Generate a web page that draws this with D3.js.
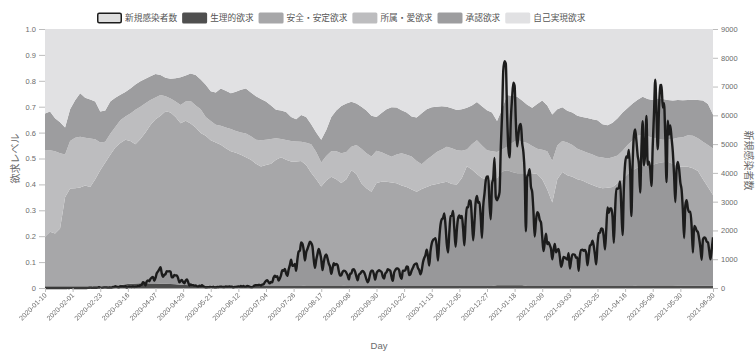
<!DOCTYPE html>
<html>
<head>
<meta charset="utf-8">
<script src="https://cdn.jsdelivr.net/npm/d3@7"></script>
<style>
  body { margin: 0; background: #fff; }
  text { font-family: "Liberation Sans", "Noto Sans CJK JP", sans-serif; }
  .x-axis { filter: grayscale(1); }
</style>
</head>
<body>
<svg id="chart" width="755" height="352"></svg>
<script>
// ---- categories (one per day, a few June 2021 dates absent from the source) ----
const startDate = "2020-01-10";
const endDate = "2021-06-30";
const skippedDates = ["2021-06-05", "2021-06-06", "2021-06-12", "2021-06-13", "2021-06-19"];
const labelEvery = 22;      // a date label every 22 days, plus the last date
const layerStep = 4;        // need-level shares are sampled every 4th day

// ---- need-level shares (stacked, bottom to top; each sample sums to 1) ----
const physiological = [
  .006,.006,.006,.006,.006,.006,.006,.006,.006,.006,.006,.006,.006,.006,
  .009,.012,.014,.016,.017,.018,.018,.017,.017,.016,.016,.015,.014,.013,.012,.011,.011,.010,.010,.009,
  .008,.008,.008,.008,.008,.008,.008,.008,.008,.008,.008,.008,.008,.008,.008,.008,.008,.008,
  .010,.010,.010,.010,.010,.010,.010,.010,
  .008,.008,.008,.008,.008,.008,.008,.008,.008,.008,.008,.008,.008,.008,.008,.008,.008,.008,.008,.008,.008,.008,.008,.008,.008,.008,.008,.008,.008,.008,
  .011,.011,.011,.011,.011,.011,
  .008,.008,.008,.008,.008,.008,.008,.008,.008,.008,.008,.008,.008,.008,.008,.008,.008,.008,.008,.008,.008,.008,
  .010,.010,.010,.010,.010,.010,.010,.010,
  .009,.009,.009,.009,.009,.009,.009,.009
];
const safety = [
  .192,.211,.204,.224,.344,.378,.379,.382,.390,.384,.414,.449,.479,.508,
  .533,.548,.558,.552,.538,.557,.582,.612,.635,.649,.666,.663,.646,.623,.634,.624,.609,.588,.578,.561,
  .554,.545,.532,.520,.514,.506,.497,.487,.472,.461,.467,.472,.487,.497,.487,.480,.480,.482,
  .465,.435,.410,.382,.405,.420,.410,.395,
  .412,.447,.432,.396,.377,.364,.397,.402,.402,.399,.396,.388,.382,.372,.364,.374,.382,.390,.394,.398,.402,.394,.392,.417,.462,.450,.432,.417,.412,.412,
  .414,.439,.444,.437,.432,.432,
  .435,.435,.432,.412,.372,.322,.412,.440,.427,.422,.412,.407,.397,.390,.382,.377,.379,.382,.397,.412,.432,.447,
  .455,.460,.464,.466,.472,.476,.477,.470,
  .461,.459,.459,.453,.443,.411,.381,.350
];
const belonging = [
  .335,.315,.318,.290,.165,.184,.195,.196,.184,.187,.154,.107,.080,.082,
  .080,.088,.090,.106,.133,.125,.113,.097,.084,.080,.058,.054,.060,.071,.074,.087,.085,.092,.072,.075,
  .068,.073,.080,.086,.084,.086,.092,.091,.092,.101,.097,.095,.083,.070,.076,.080,.078,.075,
  .086,.110,.105,.093,.095,.098,.108,.115,
  .105,.090,.112,.134,.135,.136,.125,.114,.105,.100,.111,.124,.124,.128,.118,.096,.105,.112,.123,.129,.135,.138,.132,.105,.065,.097,.130,.125,.112,.108,
  .100,.085,.090,.112,.128,.122,
  .117,.105,.098,.114,.148,.160,.130,.120,.127,.122,.118,.115,.117,.117,.117,.119,.113,.115,.107,.110,.112,.115,
  .123,.120,.112,.104,.094,.086,.085,.095,
  .110,.114,.122,.126,.126,.145,.162,.180
];
const esteem = [
  .141,.149,.127,.120,.105,.122,.145,.168,.155,.151,.146,.119,.120,.124,
  .113,.098,.095,.096,.098,.098,.095,.092,.090,.077,.072,.076,.090,.107,.100,.106,.117,.115,.125,.115,
  .125,.144,.142,.138,.152,.165,.173,.169,.168,.160,.148,.130,.110,.110,.109,.092,.086,.103,
  .099,.077,.075,.087,.100,.132,.157,.183,
  .187,.174,.160,.162,.165,.157,.130,.152,.175,.191,.182,.166,.164,.154,.168,.197,.195,.188,.175,.167,.155,.154,.155,.160,.161,.150,.148,.152,.154,.150,
  .120,.155,.200,.182,.167,.159,
  .148,.148,.172,.190,.177,.180,.140,.130,.122,.126,.127,.130,.134,.137,.141,.128,.128,.133,.143,.148,.143,.142,
  .139,.148,.144,.146,.156,.158,.154,.149,
  .146,.143,.136,.139,.148,.159,.158,.131
];
const selfActualization = [
  .326,.319,.345,.360,.380,.310,.275,.248,.265,.272,.280,.319,.315,.280,
  .265,.254,.243,.230,.214,.202,.192,.182,.174,.178,.188,.192,.190,.186,.180,.172,.178,.195,.215,.240,
  .245,.230,.238,.248,.242,.235,.230,.245,.260,.270,.280,.295,.312,.315,.320,.340,.348,.332,
  .340,.368,.400,.428,.390,.340,.315,.297,
  .288,.281,.288,.300,.315,.335,.340,.324,.310,.302,.303,.314,.322,.338,.342,.325,.310,.302,.300,.298,.300,.306,.313,.310,.304,.295,.282,.298,.314,.322,
  .355,.310,.255,.258,.262,.276,
  .292,.304,.290,.276,.295,.330,.310,.302,.316,.322,.335,.340,.344,.348,.352,.368,.372,.362,.345,.322,.305,.288,
  .273,.262,.270,.274,.268,.270,.274,.276,
  .274,.275,.274,.273,.274,.276,.290,.330
];

// ---- daily new infections (right axis) ----
const newCases = [
  0,0,0,
  0,0,0,1,0,0,0,  0,0,0,0,1,1,1,  0,3,1,3,3,2,0,  0,2,0,1,0,0,1,
  0,0,1,3,8,12,7,  5,8,11,9,12,26,12,  6,14,20,22,20,12,15,  15,14,34,33,59,47,32,
  26,54,52,55,41,64,14,  21,44,39,35,53,35,43,  39,68,65,98,112,200,173,  87,225,266,235,318,361,383,
  252,351,511,576,644,720,507,  391,457,482,585,576,584,568,  373,375,450,437,436,345,201,  248,278,206,165,259,295,204,
  87,123,100,98,82,87,60,  40,79,55,99,57,40,20,  28,31,33,38,28,42,20,  20,40,30,40,48,40,36,
  36,52,41,48,50,44,48,  20,40,40,41,58,42,72,  45,72,42,41,70,67,45,
  30,
  28,56,93,97,100,103,110,  86,120,127,196,250,274,209,  160,207,199,355,429,385,407,  259,333,450,622,595,664,510,
  420,631,795,981,774,779,839,  598,981,1264,1301,1580,1536,1331,  958,1237,1356,1485,1605,1565,1442,
  1000,700,975,1177,1360,1228,1000,  620,900,1100,1170,1030,850,740,  490,690,860,800,840,800,580,
  430,450,560,600,590,530,440,  300,500,510,640,650,560,400,  270,460,500,560,590,550,450,
  300,200,300,500,600,600,470,  290,500,580,620,590,560,400,  330,500,550,650,630,600,380,
  250,530,620,680,680,620,400,  320,600,600,620,750,730,450,  480,610,700,800,840,850,700,
  620,
  480,610,890,1040,1140,1330,1100,  780,1280,1550,1660,1700,1730,1440,  950,1700,2200,2390,2430,2590,2160,
  1520,1230,1930,2500,2510,2680,2050,  1430,2030,2430,2520,2430,2500,2050,  1480,2330,2800,2810,3040,3020,2390,
  1660,2270,2990,3200,2960,2990,2490,  1740,2840,3270,3730,3870,3880,2950,  2390,3590,3830,4520,3160,3050,3150,
  3320,4900,6000,7570,7880,7790,6090,  4880,4540,5870,6600,7130,7030,5760,  4920,5320,5650,5700,5050,4720,3990,
  1970,3850,3960,4130,3520,3340,2670,  1790,2320,2630,2580,2370,2280,1780,  1280,1570,1890,1530,1590,1490,1360,
  1000,1310,1530,1240,1320,1360,1090,  740,870,1080,1060,1020,990,1210,  680,950,1170,1170,1150,1050,1060,
  600,1130,1320,1330,1290,1320,1220,  790,1130,1470,1510,1640,1470,1150,  820,1510,1910,1920,2070,2050,1780,
  1340,2050,2800,2610,2760,2760,2470,  1570,2660,3450,3450,3490,3700,2780,  1840,3450,4310,4570,4530,4800,4090,
  2500,4330,5290,5510,5120,4610,4300,  3320,4840,5800,4260,4690,5980,4280,  4390,4130,3540,4940,6050,7240,6060,
  4820,6240,7050,7060,6270,6420,5230,  3680,5810,5330,5650,5210,4730,3930,  2990,4130,4380,4140,3660,3410,2710,
  1740,2880,3050,2760,2640,2650,2130,  1230,2160,2110,1990,1940,1710,1390,  980,1690,1760,1730,1610,1580,1290,
  1000,1350,1760
];

// ---- axis ticks ----
const needTicks = [0, 0.1, 0.2, 0.3, 0.4, 0.5, 0.6, 0.7, 0.8, 0.9, 1.0];
const caseTicks = [0, 1000, 2000, 3000, 4000, 5000, 6000, 7000, 8000, 9000];

// ---- series names and colours ----
const layerKeys = ["生理的欲求", "安全・安定欲求", "所属・愛欲求", "承認欲求", "自己実現欲求"];
const layerData = [physiological, safety, belonging, esteem, selfActualization];
const layerColors = ["#4f4f4f", "#a7a7a9", "#bdbdbf", "#9d9d9f", "#e1e1e3"];
const caseName = "新規感染者数";

// ---- layout ----
const plot = { left: 45, right: 713, top: 29, bottom: 288 };

const parse = d3.utcParse("%Y-%m-%d");
const fmt = d3.utcFormat("%Y-%m-%d");
const dates = d3.utcDays(parse(startDate), d3.utcDay.offset(parse(endDate), 1))
  .map(fmt)
  .filter(d => !skippedDates.includes(d));

const x = d3.scalePoint().domain(dates).range([plot.left, plot.right]);
const yNeed = d3.scaleLinear().domain([0, 1]).range([plot.bottom, plot.top]);
const yCases = d3.scaleLinear().domain([0, 9000]).range([plot.bottom, plot.top]);

const svg = d3.select("#chart");

svg.append("defs").append("clipPath").attr("id", "plotClip")
  .append("rect")
  .attr("x", plot.left).attr("y", plot.top - 2)
  .attr("width", plot.right - plot.left).attr("height", plot.bottom - plot.top + 4);

// stacked need-level areas
const rows = physiological.map((_, k) => {
  const row = { date: dates[k * layerStep] };
  layerKeys.forEach((key, j) => { row[key] = layerData[j][k]; });
  return row;
});
const stacked = d3.stack().keys(layerKeys)(rows);

const layerArea = d3.area()
  .x(d => x(d.data.date))
  .y0(d => yNeed(d[0]))
  .y1(d => yNeed(d[1]));

const gPlot = svg.append("g").attr("clip-path", "url(#plotClip)");
gPlot.selectAll("path.layer")
  .data(stacked)
  .join("path")
  .attr("class", "layer")
  .attr("fill", (d, i) => layerColors[i])
  .attr("d", layerArea);

// new infections: shaded area plus line on the right-hand scale
const caseRows = newCases.map((v, i) => ({ date: dates[i], value: v }));
const caseArea = d3.area()
  .x(d => x(d.date))
  .y0(yCases(0))
  .y1(d => yCases(d.value))
  .curve(d3.curveMonotoneX);
const caseLine = d3.line()
  .x(d => x(d.date))
  .y(d => yCases(d.value))
  .curve(d3.curveMonotoneX);

gPlot.append("path")
  .attr("d", caseArea(caseRows))
  .attr("fill", "#333")
  .attr("fill-opacity", 0.12);

// x axis baseline
svg.append("line")
  .attr("x1", plot.left).attr("x2", plot.right)
  .attr("y1", plot.bottom).attr("y2", plot.bottom)
  .attr("stroke", "#555").attr("stroke-width", 1);

gPlot.append("path")
  .attr("d", caseLine(caseRows))
  .attr("fill", "none")
  .attr("stroke", "#1c1c1c")
  .attr("stroke-width", 2.4)
  .attr("stroke-linejoin", "round");

// ---- axes ----
const tickColor = "#bdbdbd", labelColor = "#6b6b6b";

const lastIndex = dates.length - 1;
const xTickDates = dates.filter((d, i) =>
  (i % labelEvery === 0 && lastIndex - i >= labelEvery) || i === lastIndex);
const gx = svg.append("g")
  .attr("class", "x-axis")
  .attr("transform", `translate(0,${plot.bottom})`)
  .call(d3.axisBottom(x).tickValues(xTickDates).tickSize(4).tickPadding(2));
gx.select(".domain").remove();
gx.selectAll(".tick line").attr("stroke", tickColor);
gx.selectAll(".tick text")
  .attr("x", -4.2).attr("y", 4.2).attr("dy", "0.35em")
  .attr("transform", "rotate(-45)")
  .attr("text-anchor", "end")
  .attr("fill", labelColor)
  .style("font-size", "7px");

const fmtNeed = v => (v === 0 ? "0" : d3.format(".1f")(v));
const gyL = svg.append("g")
  .attr("transform", `translate(${plot.left},0)`)
  .call(d3.axisLeft(yNeed).tickValues(needTicks).tickFormat(fmtNeed).tickSize(6).tickPadding(3));
gyL.select(".domain").remove();
gyL.selectAll(".tick line").attr("stroke", tickColor);
gyL.selectAll(".tick text").attr("fill", labelColor).style("font-size", "7.5px");

const gyR = svg.append("g")
  .attr("transform", `translate(${plot.right},0)`)
  .call(d3.axisRight(yCases).tickValues(caseTicks).tickFormat(d3.format("d")).tickSize(5).tickPadding(3));
gyR.select(".domain").remove();
gyR.selectAll(".tick line").attr("stroke", tickColor);
gyR.selectAll(".tick text").attr("fill", labelColor).style("font-size", "7.5px");

// axis titles
svg.append("text")
  .attr("transform", `translate(15,${(plot.top + plot.bottom) / 2}) rotate(-90)`)
  .attr("text-anchor", "middle")
  .attr("dy", "0.35em")
  .attr("fill", labelColor)
  .style("font-size", "10px")
  .text("欲求レベル");

svg.append("text")
  .attr("transform", `translate(748,${(plot.top + plot.bottom) / 2 + 2}) rotate(90)`)
  .attr("text-anchor", "middle")
  .attr("dy", "0.35em")
  .attr("fill", labelColor)
  .style("font-size", "10px")
  .text(caseName);

svg.append("text")
  .attr("x", (plot.left + plot.right) / 2)
  .attr("y", 349)
  .attr("text-anchor", "middle")
  .attr("fill", labelColor)
  .style("font-size", "9.5px")
  .text("Day");

// ---- legend ----
const legendItems = [
  { name: caseName, fill: "#dedede", stroke: "#1c1c1c" },
  ...layerKeys.map((k, i) => ({ name: k, fill: layerColors[i], stroke: null }))
];
const gLeg = svg.append("g");
let lx = 97;
legendItems.forEach(item => {
  const g = gLeg.append("g").attr("transform", `translate(${lx},0)`);
  g.append("rect")
    .attr("x", item.stroke ? 0.75 : 0).attr("y", item.stroke ? 13.25 : 12.5)
    .attr("width", item.stroke ? 23.5 : 25).attr("height", item.stroke ? 9.5 : 11)
    .attr("rx", 1.5)
    .attr("fill", item.fill)
    .attr("stroke", item.stroke || "none")
    .attr("stroke-width", item.stroke ? 1.5 : 0);
  const t = g.append("text")
    .attr("x", 28).attr("y", 18).attr("dy", "0.35em")
    .attr("fill", "#555")
    .style("font-size", "8.7px")
    .text(item.name);
  lx += 28 + t.node().getComputedTextLength() + 5;
});
</script>
</body>
</html>
